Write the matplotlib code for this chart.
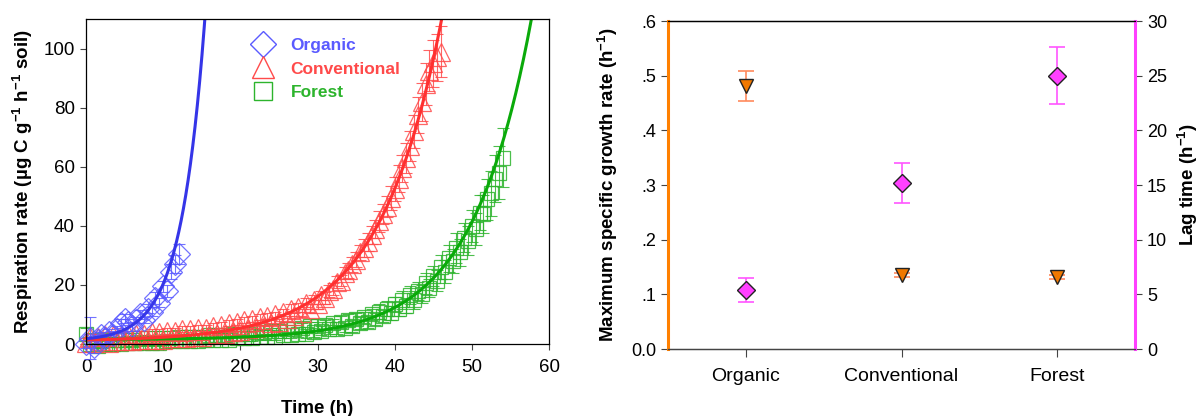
import numpy as np
import matplotlib
matplotlib.use("Agg")
import matplotlib.pyplot as plt
from matplotlib.lines import Line2D

plt.rcParams['font.family'] = ['Liberation Sans', 'DejaVu Sans']
plt.rcParams['mathtext.fontset'] = 'custom'
plt.rcParams['mathtext.rm'] = 'Liberation Sans'
plt.rcParams['mathtext.bf'] = 'Liberation Sans:bold'

### respiration curves, one reading every 0.5 h
t_org = np.arange(0, 12.01, 0.5)
resp_org = [0.0, 2.0, -1.0, 1.5, 3.0, 2.0, 4.0, 3.0, 5.0, 7.0,
            8.5, 7.5, 6.0, 8.0, 10.0, 8.0, 12.0, 11.0, 15.5, 14.0,
            19.5, 18.0, 24.5, 27.0, 30.5]
err_org = [1.5, 7.0, 2.0, 1.5, 1.0, 1.5, 1.0, 1.5, 1.0, 1.5,
           1.5, 1.0, 1.5, 1.0, 1.5, 1.0, 1.5, 1.5, 2.0, 1.5,
           2.0, 2.0, 2.5, 3.0, 3.5]

t_conv = np.arange(0, 46.01, 0.5)
resp_conv = [0.5, 2.5, 0.5, 2.5, 1.0, 3.0, 0.5, 3.0, 1.0, 3.0,
             1.0, 3.5, 1.0, 3.5, 1.5, 3.5, 1.5, 4.0, 1.5, 4.0,
             1.5, 4.5, 2.0, 4.5, 2.0, 5.0, 2.0, 5.0, 2.5, 5.5,
             2.5, 5.5, 3.0, 6.0, 3.5, 6.5, 3.5, 7.0, 4.0, 7.5,
             4.5, 8.0, 5.0, 8.5, 5.5, 9.0, 6.0, 9.5, 7.0, 10.0,
             7.5, 11.0, 8.5, 12.0, 9.5, 12.5, 10.5, 14.0, 12.0, 15.0,
             13.5, 16.5, 15.5, 18.0, 18.5, 21.0, 21.5, 24.0, 25.0, 27.0,
             28.5, 31.0, 32.5, 34.5, 37.0, 39.0, 41.5, 44.0, 46.5, 49.5,
             52.5, 56.0, 59.5, 63.0, 67.0, 72.0, 77.5, 82.0, 88.0, 92.5,
             95.0, 97.0, 99.0]
err_conv = [1.5, 1.0, 1.0, 1.0, 1.0, 1.0, 1.0, 1.0, 1.0, 1.0,
            1.0, 1.0, 1.0, 1.0, 1.0, 1.0, 1.0, 1.0, 1.0, 1.0,
            1.0, 1.0, 1.0, 1.0, 1.0, 1.0, 1.0, 1.0, 1.0, 1.0,
            1.0, 1.0, 1.0, 1.0, 1.0, 1.0, 1.0, 1.0, 1.0, 1.0,
            1.0, 1.0, 1.0, 1.0, 1.0, 1.0, 1.0, 1.0, 1.0, 1.0,
            1.0, 1.0, 1.0, 1.5, 1.0, 1.5, 1.5, 1.5, 1.5, 1.5,
            1.5, 1.5, 2.0, 2.0, 2.0, 2.0, 2.0, 2.0, 2.5, 2.5,
            2.5, 2.5, 3.0, 3.0, 3.0, 3.0, 3.5, 3.5, 3.5, 4.0,
            4.0, 4.5, 4.5, 5.0, 5.0, 5.5, 6.0, 6.5, 7.0, 7.0,
            8.0, 8.0, 8.5]

t_for = np.arange(0, 54.01, 0.5)
resp_for = [3.5, 0.0, 1.5, -0.5, 1.0, 0.0, 1.5, 0.0, 1.5, 0.0,
            1.5, 0.5, 1.5, 0.5, 2.0, 0.5, 2.0, 0.5, 2.0, 0.5,
            2.0, 1.0, 2.0, 1.0, 2.5, 1.0, 2.5, 1.0, 2.5, 1.0,
            2.5, 1.5, 3.0, 1.5, 3.0, 1.5, 3.0, 1.5, 3.5, 2.0,
            3.5, 2.0, 3.5, 2.0, 4.0, 2.5, 4.0, 2.5, 4.5, 2.5,
            4.5, 3.0, 5.0, 3.0, 5.0, 3.5, 5.5, 3.5, 6.0, 4.0,
            6.0, 4.5, 6.5, 5.0, 7.0, 5.0, 7.5, 5.5, 8.0, 6.0,
            8.5, 7.0, 9.0, 7.5, 10.0, 8.5, 11.0, 9.5, 12.0, 10.5,
            13.5, 12.0, 15.0, 13.0, 16.5, 15.0, 18.0, 17.0, 20.5, 19.0,
            23.0, 21.5, 26.0, 24.5, 29.0, 28.0, 32.5, 31.0, 36.0, 35.0,
            40.0, 39.0, 44.5, 44.0, 49.0, 51.0, 56.0, 58.0, 63.0]
err_for = [2.0, 1.0, 1.0, 1.0, 1.0, 1.0, 1.0, 1.0, 1.0, 1.0,
           1.0, 1.0, 1.0, 1.0, 1.0, 1.0, 1.0, 1.0, 1.0, 1.0,
           1.0, 1.0, 1.0, 1.0, 1.0, 1.0, 1.0, 1.0, 1.0, 1.0,
           1.0, 1.0, 1.0, 1.0, 1.0, 1.0, 1.0, 1.0, 1.0, 1.0,
           1.0, 1.0, 1.0, 1.0, 1.0, 1.0, 1.0, 1.0, 1.0, 1.0,
           1.0, 1.0, 1.5, 1.0, 1.5, 1.0, 1.5, 1.5, 1.5, 1.5,
           1.5, 1.5, 1.5, 1.5, 1.5, 1.5, 2.0, 1.5, 2.0, 2.0,
           2.0, 2.0, 2.0, 2.0, 2.0, 2.0, 2.5, 2.0, 2.5, 2.5,
           2.5, 2.5, 3.0, 2.5, 3.0, 3.0, 3.0, 3.0, 3.5, 3.0,
           3.5, 3.5, 4.0, 4.0, 4.5, 4.0, 5.0, 4.5, 5.0, 5.0,
           5.5, 5.5, 6.0, 6.5, 7.0, 7.5, 8.0, 9.0, 10.0]

### fitted growth model: resp = a + b*exp(mu*t)
fit_a = {'Organic': 1.0, 'Conventional': 1.0, 'Forest': 1.5}
fit_b = {'Organic': 0.79, 'Conventional': 0.376, 'Forest': 0.0598}
fit_mu = {'Organic': 0.32, 'Conventional': 0.123, 'Forest': 0.13}

### growth kinetics per soil
soils = ['Organic', 'Conventional', 'Forest']
mu_max = [0.481, 0.135, 0.132]
mu_err = [0.028, 0.004, 0.003]
lag_time = [5.4, 15.2, 25.0]
lag_err = [1.1, 1.8, 2.6]

col = {'Organic': '#5a5aff', 'Conventional': '#ff4a4a', 'Forest': '#2db42d'}
line_col = {'Organic': '#3535e8', 'Conventional': '#ff3030', 'Forest': '#0aaa0a'}
marker = {'Organic': 'D', 'Conventional': '^', 'Forest': 's'}
msize = {'Organic': 11, 'Conventional': 13, 'Forest': 10.5}
leg_size = {'Organic': 13, 'Conventional': 15.5, 'Forest': 13.5}

series = [('Forest', t_for, resp_for, err_for),
          ('Conventional', t_conv, resp_conv, err_conv),
          ('Organic', t_org, resp_org, err_org)]

fig = plt.figure(figsize=(12, 4.16), dpi=100)

## left: respiration curves
ax = fig.add_axes([0.0717, 0.173, 0.3858, 0.7813])
for name, t, r, e in series:
    ax.errorbar(t, r, yerr=e, fmt='none', ecolor=col[name], elinewidth=0.8,
                capsize=4, capthick=0.8, alpha=0.85, clip_on=False)
    ax.plot(t, r, ls='none', marker=marker[name], ms=msize[name], mfc='none',
            mec=col[name], mew=0.9, alpha=0.85, clip_on=False)
for name, t, r, e in series:
    tt = np.linspace(0, 60, 600)
    yy = fit_a[name] + fit_b[name]*np.exp(fit_mu[name]*tt)
    ax.plot(tt, yy, color=line_col[name], lw=2.2)

ax.set_xlim(0, 60)
ax.set_ylim(0, 110)
ax.set_xticks(np.arange(0, 61, 10))
ax.set_yticks(np.arange(0, 101, 20))
ax.tick_params(direction='out', length=4, width=0.8, labelsize=13.5, pad=4, color='#444444')
ax.tick_params(axis='x', pad=7)
ax.set_xlabel('Time (h)', fontsize=13.5, fontweight='bold', labelpad=17)
ax.set_ylabel(r'Respiration rate (µg C g$^{\mathbf{-1}}$ h$^{\mathbf{-1}}$ soil)',
              fontsize=13.5, fontweight='bold', labelpad=6)
for sp in ax.spines.values():
    sp.set_linewidth(0.9)

handles = [Line2D([], [], ls='none', marker=marker[n], ms=leg_size[n], mfc='none', mec=col[n], mew=1.0)
           for n in soils]
leg = ax.legend(handles, soils, loc='upper left', bbox_to_anchor=(0.335, 0.975), frameon=False,
                prop={'weight': 'bold', 'size': 12.5}, handlelength=1.3, handletextpad=0.95,
                labelspacing=0.5, borderaxespad=0.2)
for txt, n in zip(leg.get_texts(), soils):
    txt.set_color(col[n])

## right: growth rate and lag time
x = np.arange(1, len(soils) + 1)
ax1 = fig.add_axes([0.5567, 0.161, 0.3892, 0.7885])
ax2 = ax1.twinx()
ax1.errorbar(x, mu_max, yerr=mu_err, fmt='none', ecolor='#ff8a5c', elinewidth=1.2,
             capsize=6, capthick=1.2, zorder=2)
ax1.plot(x, mu_max, ls='none', marker='v', ms=10.5, mfc='#f07800', mec='#222222', mew=1.0, zorder=3)
ax2.errorbar(x, lag_time, yerr=lag_err, fmt='none', ecolor='#ff55ff', elinewidth=1.2,
             capsize=6, capthick=1.2, zorder=2)
ax2.plot(x, lag_time, ls='none', marker='D', ms=9.5, mfc='#ff40ff', mec='#222222', mew=1.0, zorder=3)

ax1.set_xlim(0.5, 3.5)
ax1.set_ylim(0, 0.6)
ax2.set_ylim(0, 30)
ax1.set_xticks(x)
ax1.set_xticklabels(soils)
ax1.set_yticks(np.arange(0, 0.61, 0.1))
ax1.set_yticklabels(['0.0', '.1', '.2', '.3', '.4', '.5', '.6'])
ax2.set_yticks(np.arange(0, 31, 5))
ax1.tick_params(direction='out', length=5, width=0.8, labelsize=13, color='#444444')
ax1.tick_params(axis='x', length=6, pad=8, labelsize=14)
ax2.tick_params(direction='out', length=5, width=0.8, labelsize=13, color='#444444')
ax1.set_ylabel(r'Maximum specific growth rate (h$^{\mathbf{-1}}$)', fontsize=13.5,
               fontweight='bold', labelpad=8)
ax2.set_ylabel(r'Lag time (h$^{\mathbf{-1}}$)', fontsize=13.5, fontweight='bold', labelpad=6)

ax2.spines['left'].set_color('#ff8000')
ax2.spines['left'].set_linewidth(2.2)
ax2.spines['right'].set_color('#ff40ff')
ax2.spines['right'].set_linewidth(2.2)
for a in (ax1, ax2):
    a.spines['top'].set_linewidth(0.9)
    a.spines['bottom'].set_linewidth(0.9)
    a.spines['bottom'].set_color('#444444')

fig.savefig('out.png', dpi=100)
